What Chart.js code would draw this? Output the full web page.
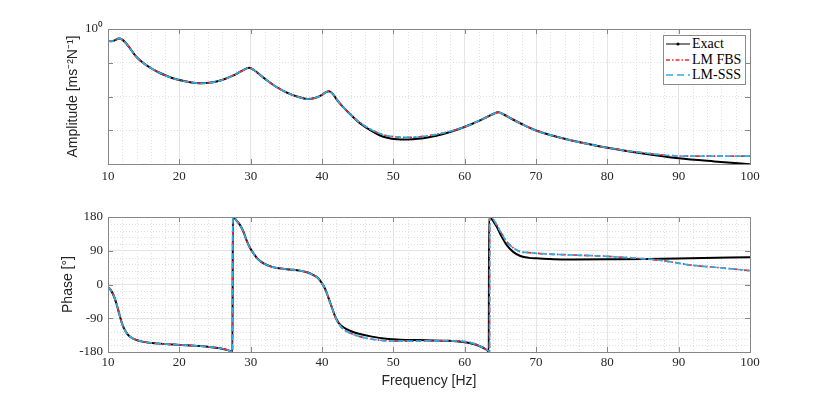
<!DOCTYPE html>
<html>
<head>
<meta charset="utf-8">
<script src="https://cdn.jsdelivr.net/npm/chart.js@4.4.1/dist/chart.umd.min.js"></script>
<style>
  body { margin: 0; background: #fff; }
  #wrap { position: relative; width: 830px; height: 396px; }
  canvas { position: absolute; left: 0; }
  #legend {
    position: absolute; left: 663px; top: 35px; width: 83px; height: 50px;
    box-sizing: border-box; border: 1px solid #8a8a8a; background: #fff;
    font-family: 'Liberation Serif', serif; font-size: 14px; color: #000;
    padding-left: 2px;
  }
  #legend .row { height: 15.7px; line-height: 15.7px; display: flex; align-items: center; white-space: nowrap; }
  #legend svg { flex: none; margin-right: 2px; }
</style>
</head>
<body>
<div id="wrap">
  <canvas id="ampChart" width="830" height="196" style="top:0"></canvas>
  <canvas id="phaseChart" width="830" height="200" style="top:196px"></canvas>
  <div id="legend">
    <div class="row"><svg width="24" height="10"><line x1="0" y1="5" x2="24" y2="5" stroke="#000" stroke-width="1"/><circle cx="12" cy="5" r="1.5" fill="#000"/></svg><span>Exact</span></div>
    <div class="row"><svg width="24" height="10"><line x1="0" y1="5" x2="24" y2="5" stroke="#f0282d" stroke-width="1.6" stroke-dasharray="4 2 1.5 2"/></svg><span>LM FBS</span></div>
    <div class="row"><svg width="24" height="10"><line x1="0" y1="5" x2="24" y2="5" stroke="#2aaee6" stroke-width="1.6" stroke-dasharray="7 4"/></svg><span>LM-SSS</span></div>
  </div>
</div>
<script>
// Datos
const freqTicks = [10, 20, 30, 40, 50, 60, 70, 80, 90, 100];
const ampTicks = [1e-4, 1e-3, 1e-2, 1e-1, 1];
const ampTickLabels = ['', '', '', '', '10\u2070'];
const phaseTicks = [-180, -90, 0, 90, 180];

const freqAmp = [10, 10.5, 11, 11.5, 12, 12.5, 13, 13.5, 14, 15,
  16, 17, 18, 19, 20, 21.5, 23, 24.5, 26, 27.5,
  28.7, 29.8, 30.5, 31.5, 32.5, 33.5, 35, 36.5, 38, 39,
  40, 40.5, 41, 41.5, 42, 42.5, 43.5, 44.5, 45.5, 46.7,
  48, 49, 50.5, 52, 53.5, 55, 57, 59, 61, 63,
  64, 64.7, 65.5, 66.5, 68, 70, 72.5, 75, 80, 85,
  90, 95, 100];
const ampExact = [0.450, 0.435, 0.466, 0.527, 0.485, 0.385, 0.283, 0.201, 0.148, 0.0963,
  0.0699, 0.0532, 0.0425, 0.0353, 0.0308, 0.0265, 0.0246, 0.0258, 0.0308, 0.0413,
  0.0562, 0.0714, 0.0601, 0.0405, 0.0278, 0.0198, 0.0133, 0.0100, 0.00843, 0.00903,
  0.01123, 0.01323, 0.01436, 0.01202, 0.00855, 0.00629, 0.00372, 0.00231, 0.00150, 0.00102,
  0.000723, 0.000610, 0.000543, 0.000536, 0.000558, 0.000622, 0.000774, 0.00105, 0.00153, 0.00239,
  0.00303, 0.00340, 0.00293, 0.00223, 0.00153, 0.000983, 0.000675, 0.000497, 0.000304, 0.000205,
  0.000148, 0.000119, 0.0000986];
// LM FBS y LM-SSS coinciden en la figura
const ampLM = [0.450, 0.435, 0.466, 0.527, 0.485, 0.385, 0.283, 0.201, 0.148, 0.0963,
  0.0699, 0.0532, 0.0425, 0.0353, 0.0308, 0.0265, 0.0246, 0.0258, 0.0308, 0.0413,
  0.0562, 0.0714, 0.0601, 0.0405, 0.0278, 0.0198, 0.0133, 0.0100, 0.00843, 0.00903,
  0.01123, 0.01323, 0.01436, 0.01202, 0.00855, 0.00629, 0.00372, 0.00231, 0.001585, 0.001089,
  0.000812, 0.000699, 0.000631, 0.000618, 0.000631, 0.000694, 0.000829, 0.00107, 0.00153, 0.00239,
  0.00303, 0.00340, 0.00293, 0.00223, 0.00153, 0.000983, 0.000675, 0.000497, 0.000304, 0.000215,
  0.000173, 0.000170, 0.000170];

const freqPhaseExact = [10, 10.4, 10.8, 11.2, 11.6, 12, 12.5, 13, 14, 15,
  16.8, 20, 22, 24, 25.7, 26.8, 27.45, 27.5, 28, 28.5,
  29, 29.4, 29.9, 30.4, 31, 31.8, 33, 34.1, 35.5, 36.9,
  38, 38.8, 39.4, 39.9, 40.4, 40.9, 41.4, 41.9, 42.4, 43,
  44, 45.3, 47, 49, 51, 53.7, 57.5, 59.5, 60.5, 61.5,
  62.3, 62.9, 63.3, 63.38, 63.42, 63.9, 64.5, 65.2, 65.9, 66.8,
  67.8, 69, 70.1, 72.5, 75.2, 80, 85.5, 91.6, 100];
const phaseExact = [-7.5, -15, -30, -52, -80, -106, -126, -138, -148, -153,
  -157, -161, -163, -166, -170, -175, -180, 180, 171, 159,
  140, 119, 98, 83, 68, 56.5, 47, 43, 40, 37,
  32, 25, 18, 6, -10, -35, -62, -88, -104, -114,
  -124, -132, -139, -144.5, -147, -148, -150, -152.5, -155.5, -160,
  -166, -172, -178, -180, 180, 172, 154, 127, 105, 87,
  76, 71, 70, 67.5, 67, 67.3, 68, 70, 73];

const freqPhaseLM = [10, 10.4, 10.8, 11.2, 11.6, 12, 12.5, 13, 14, 15,
  16.8, 20, 22, 24, 25.7, 26.8, 27.45, 27.5, 28, 28.5,
  29, 29.4, 29.9, 30.4, 31, 31.8, 33, 34.1, 35.5, 36.9,
  38, 38.8, 39.4, 39.9, 40.4, 40.9, 41.4, 41.9, 42.4, 43,
  44, 45.3, 47, 49, 51, 53.7, 57.5, 59.5, 60.5, 61.5,
  62.3, 62.9, 63.4, 63.48, 63.52, 64, 64.5, 65.2, 65.9, 66.8,
  67.8, 69, 70.1, 72.5, 75.2, 80, 85.5, 88, 91.6, 95, 100];
const phaseLM = [-7.5, -15, -30, -52, -80, -106, -126, -138, -148, -153,
  -157, -161, -163, -166, -170, -175, -180, 180, 171, 159,
  140, 119, 98, 83, 68, 56.5, 47, 43, 40, 37,
  32, 25, 18, 6, -10, -35, -62, -88, -106, -119.5,
  -130, -139, -146, -150, -151, -150.7, -150, -151.5, -153.5, -159,
  -166, -172, -178, -180, 180, 174, 158.7, 135, 114, 98,
  87.5, 85, 83, 80.5, 78.7, 75, 68, 63, 52, 46, 37];

const serifFont = { family: "'Liberation Serif', serif", size: 13 };
const sansFont = { family: "'Liberation Sans', Arial, sans-serif", size: 14, lineHeight: 1.2 };
const textColor = '#262626';

function toPoints(xs, ys) {
    return xs.map((x, i) => ({ x: x, y: ys[i] }));
}

function makeDatasets(fx, yExact, fl, yFbs, ySss) {
    return [
        { label: 'Exact', data: toPoints(fx, yExact), borderColor: '#000', borderWidth: 2, order: 3 },
        { label: 'LM FBS', data: toPoints(fl, yFbs), borderColor: '#f0282d', borderWidth: 1.7, borderDash: [5, 2.5, 1.5, 2.5], order: 2 },
        { label: 'LM-SSS', data: toPoints(fl, ySss), borderColor: '#2aaee6', borderWidth: 1.7, borderDash: [6, 3], order: 1 }
    ].map(d => Object.assign(d, { pointRadius: 0, cubicInterpolationMode: 'monotone', fill: false }));
}

// Rejilla menor punteada
const minorGrid = {
    id: 'minorGrid',
    beforeDatasetsDraw(chart, args, opts) {
        const { ctx, chartArea: a, scales } = chart;
        ctx.save();
        ctx.strokeStyle = '#e0e0e0';
        ctx.lineWidth = 1;
        ctx.setLineDash([1, 2]);
        ctx.beginPath();
        if (opts.xStep) {
            for (let v = scales.x.min + opts.xStep; v < scales.x.max; v += opts.xStep) {
                if (Math.abs(v % 10) < 1e-6) continue;
                const px = Math.round(scales.x.getPixelForValue(v)) + 0.5;
                ctx.moveTo(px, a.top); ctx.lineTo(px, a.bottom);
            }
        }
        if (opts.yStep) {
            for (let v = scales.y.min + opts.yStep; v < scales.y.max; v += opts.yStep) {
                if (Math.abs(v % 90) < 1e-6) continue;
                const py = Math.round(scales.y.getPixelForValue(v)) + 0.5;
                ctx.moveTo(a.left, py); ctx.lineTo(a.right, py);
            }
        }
        ctx.stroke();
        ctx.restore();
    }
};

// Caja de ejes con marcas hacia dentro
const axesBox = {
    id: 'axesBox',
    afterDatasetsDraw(chart) {
        const { ctx, chartArea: a, scales } = chart;
        ctx.save();
        ctx.strokeStyle = '#868686';
        ctx.lineWidth = 1;
        ctx.setLineDash([]);
        ctx.strokeRect(Math.round(a.left) + 0.5, Math.round(a.top) + 0.5, Math.round(a.width), Math.round(a.height));
        ctx.beginPath();
        scales.x.ticks.forEach(t => {
            const px = Math.round(scales.x.getPixelForValue(t.value)) + 0.5;
            ctx.moveTo(px, a.bottom); ctx.lineTo(px, a.bottom - 5);
            ctx.moveTo(px, a.top); ctx.lineTo(px, a.top + 5);
        });
        scales.y.ticks.forEach(t => {
            const py = Math.round(scales.y.getPixelForValue(t.value)) + 0.5;
            ctx.moveTo(a.left, py); ctx.lineTo(a.left + 5, py);
            ctx.moveTo(a.right, py); ctx.lineTo(a.right - 5, py);
        });
        ctx.stroke();
        ctx.restore();
    }
};

function xAxis(height, pad, withTitle) {
    return {
        type: 'linear', min: 10, max: 100,
        afterBuildTicks: s => { s.ticks = freqTicks.map(v => ({ value: v })); },
        afterFit: s => { s.height = height; },
        grid: { color: '#e4e4e4', drawTicks: false },
        border: { display: false },
        ticks: { padding: pad, font: serifFont, color: textColor, maxRotation: 0, autoSkip: false, callback: v => String(v) },
        title: { display: withTitle, text: 'Frequency [Hz]', font: sansFont, color: textColor, padding: { top: 0, bottom: 6.6 } }
    };
}

const baseOptions = {
    responsive: false,
    animation: false,
    devicePixelRatio: 1,
    plugins: { legend: { display: false }, tooltip: { enabled: false } }
};

new Chart(document.getElementById('ampChart'), {
    type: 'line',
    data: { datasets: makeDatasets(freqAmp, ampExact, freqAmp, ampLM, ampLM) },
    options: Object.assign({}, baseOptions, {
        layout: { padding: { top: 29, right: 80, left: 0, bottom: 0 } },
        plugins: Object.assign({}, baseOptions.plugins, { minorGrid: { xStep: 2 } }),
        scales: {
            x: xAxis(32, 5, false),
            y: {
                type: 'logarithmic', min: 1e-4, max: 1,
                afterBuildTicks: s => { s.ticks = ampTicks.map(v => ({ value: v })); },
                afterFit: s => { s.width = 108; },
                grid: { color: '#e0e0e0', drawTicks: false },
                border: { display: false, dash: [1, 2] },
                ticks: { padding: 5, font: serifFont, color: textColor, autoSkip: false,
                    callback: v => ampTickLabels[ampTicks.indexOf(v)] || '' },
                title: { display: true, text: 'Amplitude [ms\u207B\u00B2N\u207B\u00B9]', font: sansFont, color: textColor, padding: { top: 65, bottom: 0 } }
            }
        }
    }),
    plugins: [minorGrid, axesBox]
});

new Chart(document.getElementById('phaseChart'), {
    type: 'line',
    data: { datasets: makeDatasets(freqPhaseExact, phaseExact, freqPhaseLM, phaseLM, phaseLM) },
    options: Object.assign({}, baseOptions, {
        layout: { padding: { top: 21, right: 80, left: 0, bottom: 0 } },
        plugins: Object.assign({}, baseOptions.plugins, { minorGrid: { xStep: 2, yStep: 18 } }),
        scales: {
            x: xAxis(44, 3, true),
            y: {
                type: 'linear', min: -180, max: 180,
                afterBuildTicks: s => { s.ticks = phaseTicks.map(v => ({ value: v })); },
                afterFit: s => { s.width = 108; },
                grid: { color: '#e4e4e4', drawTicks: false },
                border: { display: false },
                ticks: { padding: 5, font: serifFont, color: textColor, autoSkip: false, callback: v => String(v) },
                title: { display: true, text: 'Phase [\u00B0]', font: sansFont, color: textColor, padding: { top: 60, bottom: 0 } }
            }
        }
    }),
    plugins: [minorGrid, axesBox]
});
</script>
</body>
</html>
